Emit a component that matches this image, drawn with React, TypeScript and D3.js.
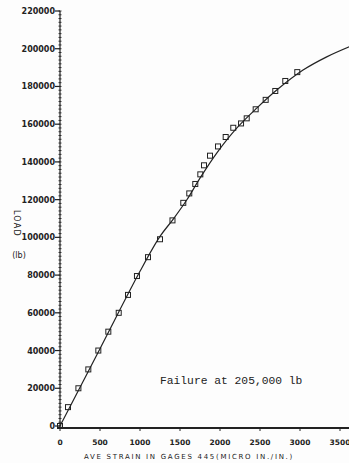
import React from "react";
import * as d3 from "d3";

const yTicks = [0, 20000, 40000, 60000, 80000, 100000, 120000, 140000, 160000, 180000, 200000, 220000];
const xTicks = [0, 500, 1000, 1500, 2000, 2500, 3000, 3500];

const strain = [0, 100, 230, 354, 479, 604, 734, 850, 962, 1100, 1250, 1406, 1541, 1616, 1691, 1754, 1800, 1875, 1975, 2071, 2166, 2263, 2334, 2446, 2571, 2691, 2816, 2966];
const load = [0, 10000, 20000, 30000, 40000, 50000, 60000, 69500, 79500, 89500, 99000, 109000, 118300, 123300, 128300, 133400, 138200, 143300, 148200, 153200, 158100, 160400, 163100, 167900, 172900, 177600, 182900, 187600];

const curveStrain = [0, 500, 1000, 1250, 1416, 1584, 1750, 1959, 2209, 2459, 2709, 3038, 3334, 3625];
const curveLoad = [0, 41000, 82000, 100500, 109700, 119800, 131400, 144700, 157900, 168500, 178100, 188700, 195700, 201200];

const xTitle = "AVE STRAIN IN GAGES 445(MICRO IN./IN.)";
const note = "Failure at 205,000 lb";

export default function App() {
  const W = 349, H = 463;
  const x = d3.scaleLinear().domain([0, 3500]).range([60, 340]);
  const y = d3.scaleLinear().domain([0, 220000]).range([426, 11]);
  const ink = "#222";
  const minor = d3.range(0, 220001, 2000);
  const line = d3
    .line<number>()
    .x((_, i) => x(curveStrain[i]))
    .y((d) => y(d))
    .curve(d3.curveCatmullRom.alpha(0.5));
  const axisFont = "'DejaVu Sans', sans-serif";
  return (
    <svg width={W} height={H} style={{ position: "absolute", left: 0, top: 0, background: "#fff" }}>
      <rect width={W} height={H} fill="#fdfdfd" />
      {/* y axis */}
      <line x1={x(0)} x2={x(0)} y1={y(220000)} y2={y(0) + 2} stroke={ink} strokeWidth={1.2} />
      {minor.map((v) => (
        <line key={"m" + v} x1={x(0) - 1.5} x2={x(0) + 1.5} y1={y(v)} y2={y(v)} stroke={ink} strokeWidth={0.9} />
      ))}
      {yTicks.map((v) => (
        <g key={"y" + v}>
          <line x1={x(0) - 5} x2={x(0)} y1={y(v)} y2={y(v)} stroke={ink} strokeWidth={1.2} />
          <text x={x(0) - 5} y={y(v) + 3} textAnchor="end" fontFamily={axisFont} fontSize={8} fontWeight="bold" fill={ink}>
            {v}
          </text>
        </g>
      ))}
      {/* x axis */}
      <line x1={x(0) - 2} x2={W} y1={y(0) + 2} y2={y(0) + 2} stroke={ink} strokeWidth={1.8} />
      {xTicks.map((v) => (
        <g key={"x" + v}>
          <line x1={x(v)} x2={x(v)} y1={y(0) + 2} y2={y(0) + 5} stroke={ink} strokeWidth={1} />
          <text x={x(v)} y={y(0) + 19} textAnchor="middle" fontFamily={axisFont} fontSize={7.5} fontWeight="bold" fill={ink}>
            {v}
          </text>
        </g>
      ))}
      <text x={189} y={459} textAnchor="middle" fontFamily={axisFont} fontSize={7} fill={ink} letterSpacing={1.7}>
        {xTitle}
      </text>
      {/* y title */}
      <text transform={`translate(14,210) rotate(90)`} fontFamily={axisFont} fontSize={8} fill={ink} letterSpacing={1.2}>
        LOAD
      </text>
      <text x={19} y={258} textAnchor="middle" fontFamily={axisFont} fontSize={8} fill={ink}>
        (lb)
      </text>
      {/* curve */}
      <path d={line(curveLoad) || ""} fill="none" stroke={ink} strokeWidth={1.2} />
      {/* points */}
      {load.map((v, i) => (
        <rect key={"p" + i} x={x(strain[i]) - 2.5} y={y(v) - 2.5} width={5} height={5} fill="none" stroke={ink} strokeWidth={1} />
      ))}
      <text x={160} y={384} fontFamily="'Liberation Mono', monospace" fontSize={11.3} fill={ink}>
        {note}
      </text>
    </svg>
  );
}
